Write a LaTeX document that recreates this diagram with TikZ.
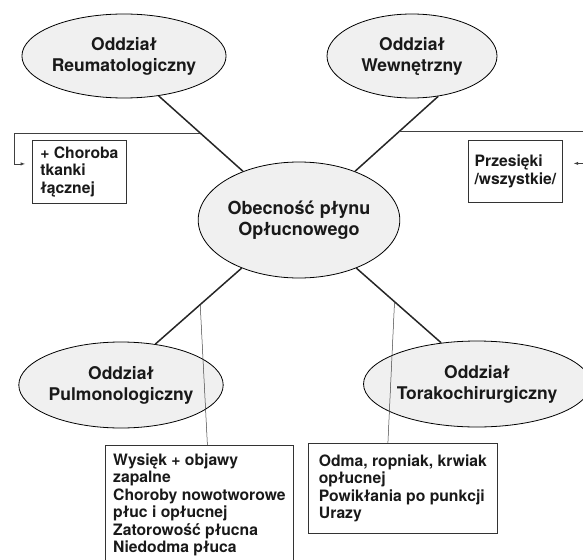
\documentclass[tikz,border=0pt]{standalone}
\usepackage{fontspec}
\setmainfont{TeX Gyre Heros}
\usepackage{tikz}
\usetikzlibrary{arrows,shapes.geometric,calc}

\begin{document}
\begin{tikzpicture}[x=1pt, y=-1pt,
    oddzial/.style={ellipse, draw=black, line width=0.8pt, fill=gray!12,
                    inner sep=0pt, align=center, text=black!90,
                    minimum width=187pt, minimum height=86pt,
                    font=\bfseries\fontsize{17.5}{21}\selectfont},
    ramka/.style={draw=black!80, line width=0.8pt, align=left, text=black!90,
                  anchor=north west, font=\bfseries\fontsize{15.7}{17.5}\selectfont},
    gruba/.style={line width=1.5pt, black!85},
    cienka/.style={line width=0.5pt, black!75},
    pfeil/.style={cienka, -latex}]
    \useasboundingbox (0,0) rectangle (583,559);

    % Departments
    \node[oddzial, minimum width=168pt, minimum height=84pt] (reum) at (124,56) {Oddział\\Reumatologiczny};
    \node[oddzial, minimum width=170pt, minimum height=84pt] (wewn) at (412,56) {Oddział\\Wewnętrzny};
    \node[oddzial] (pulmo) at (121,385) {Oddział\\Pulmonologiczny};
    \node[oddzial, minimum width=184pt] (torako) at (477,384) {Oddział\\Torakochirurgiczny};
    \node[oddzial, minimum width=188pt, minimum height=116pt,
          font=\bfseries\fontsize{18}{21.5}\selectfont] (obec) at (299,220)
          {Obecność płynu\\Opłucnowego};

    % Boxes with causes
    \node[ramka, minimum width=94pt, minimum height=63pt] (chor) at (32,140)
          {+ Choroba\\tkanki\\łącznej};
    \node[ramka, minimum width=94pt, minimum height=62pt] (przes) at (468,140)
          {Przesięki\\/wszystkie/};
    \node[ramka, minimum width=188pt, inner ysep=8pt] (wysiek) at (105,445)
          {Wysięk + objawy\\zapalne\\Choroby nowotworowe\\płuc i opłucnej\\Zatorowość płucna\\Niedodma płuca};
    \node[ramka, minimum width=189pt, minimum height=90pt] (odma) at (308,443)
          {Odma, ropniak, krwiak\\opłucnej\\Powikłania po punkcji\\Urazy};

    % Links to the centre
    \draw[gruba] (reum.-49) -- (obec.139);
    \draw[gruba] (wewn.-57) -- (obec.41);
    \draw[gruba] (obec.220) -- (pulmo.50);
    \draw[gruba] (obec.-40) -- (torako.131);

    % Side branches
    \coordinate (rl) at ($(reum.-49)!0.49!(obec.139)$);
    \coordinate (rr) at ($(wewn.-57)!0.47!(obec.41)$);
    \draw[pfeil] (rl) -| ([xshift=-18pt,yshift=8pt]chor.west) -- ([xshift=-7pt,yshift=8pt]chor.west);
    \draw[pfeil] (rr) -| ([xshift=20pt,yshift=8pt]przes.east) -- ([xshift=11pt,yshift=8pt]przes.east);

    % Lower branches
    \coordinate (ll) at ($(obec.220)!0.48!(pulmo.50)$);
    \coordinate (lr) at ($(obec.-40)!0.45!(torako.131)$);
    \draw[cienka] (ll) -- ([xshift=8pt]wysiek.north);
    \draw[cienka] (lr) -- ([xshift=-15pt]odma.north);
\end{tikzpicture}
\end{document}
